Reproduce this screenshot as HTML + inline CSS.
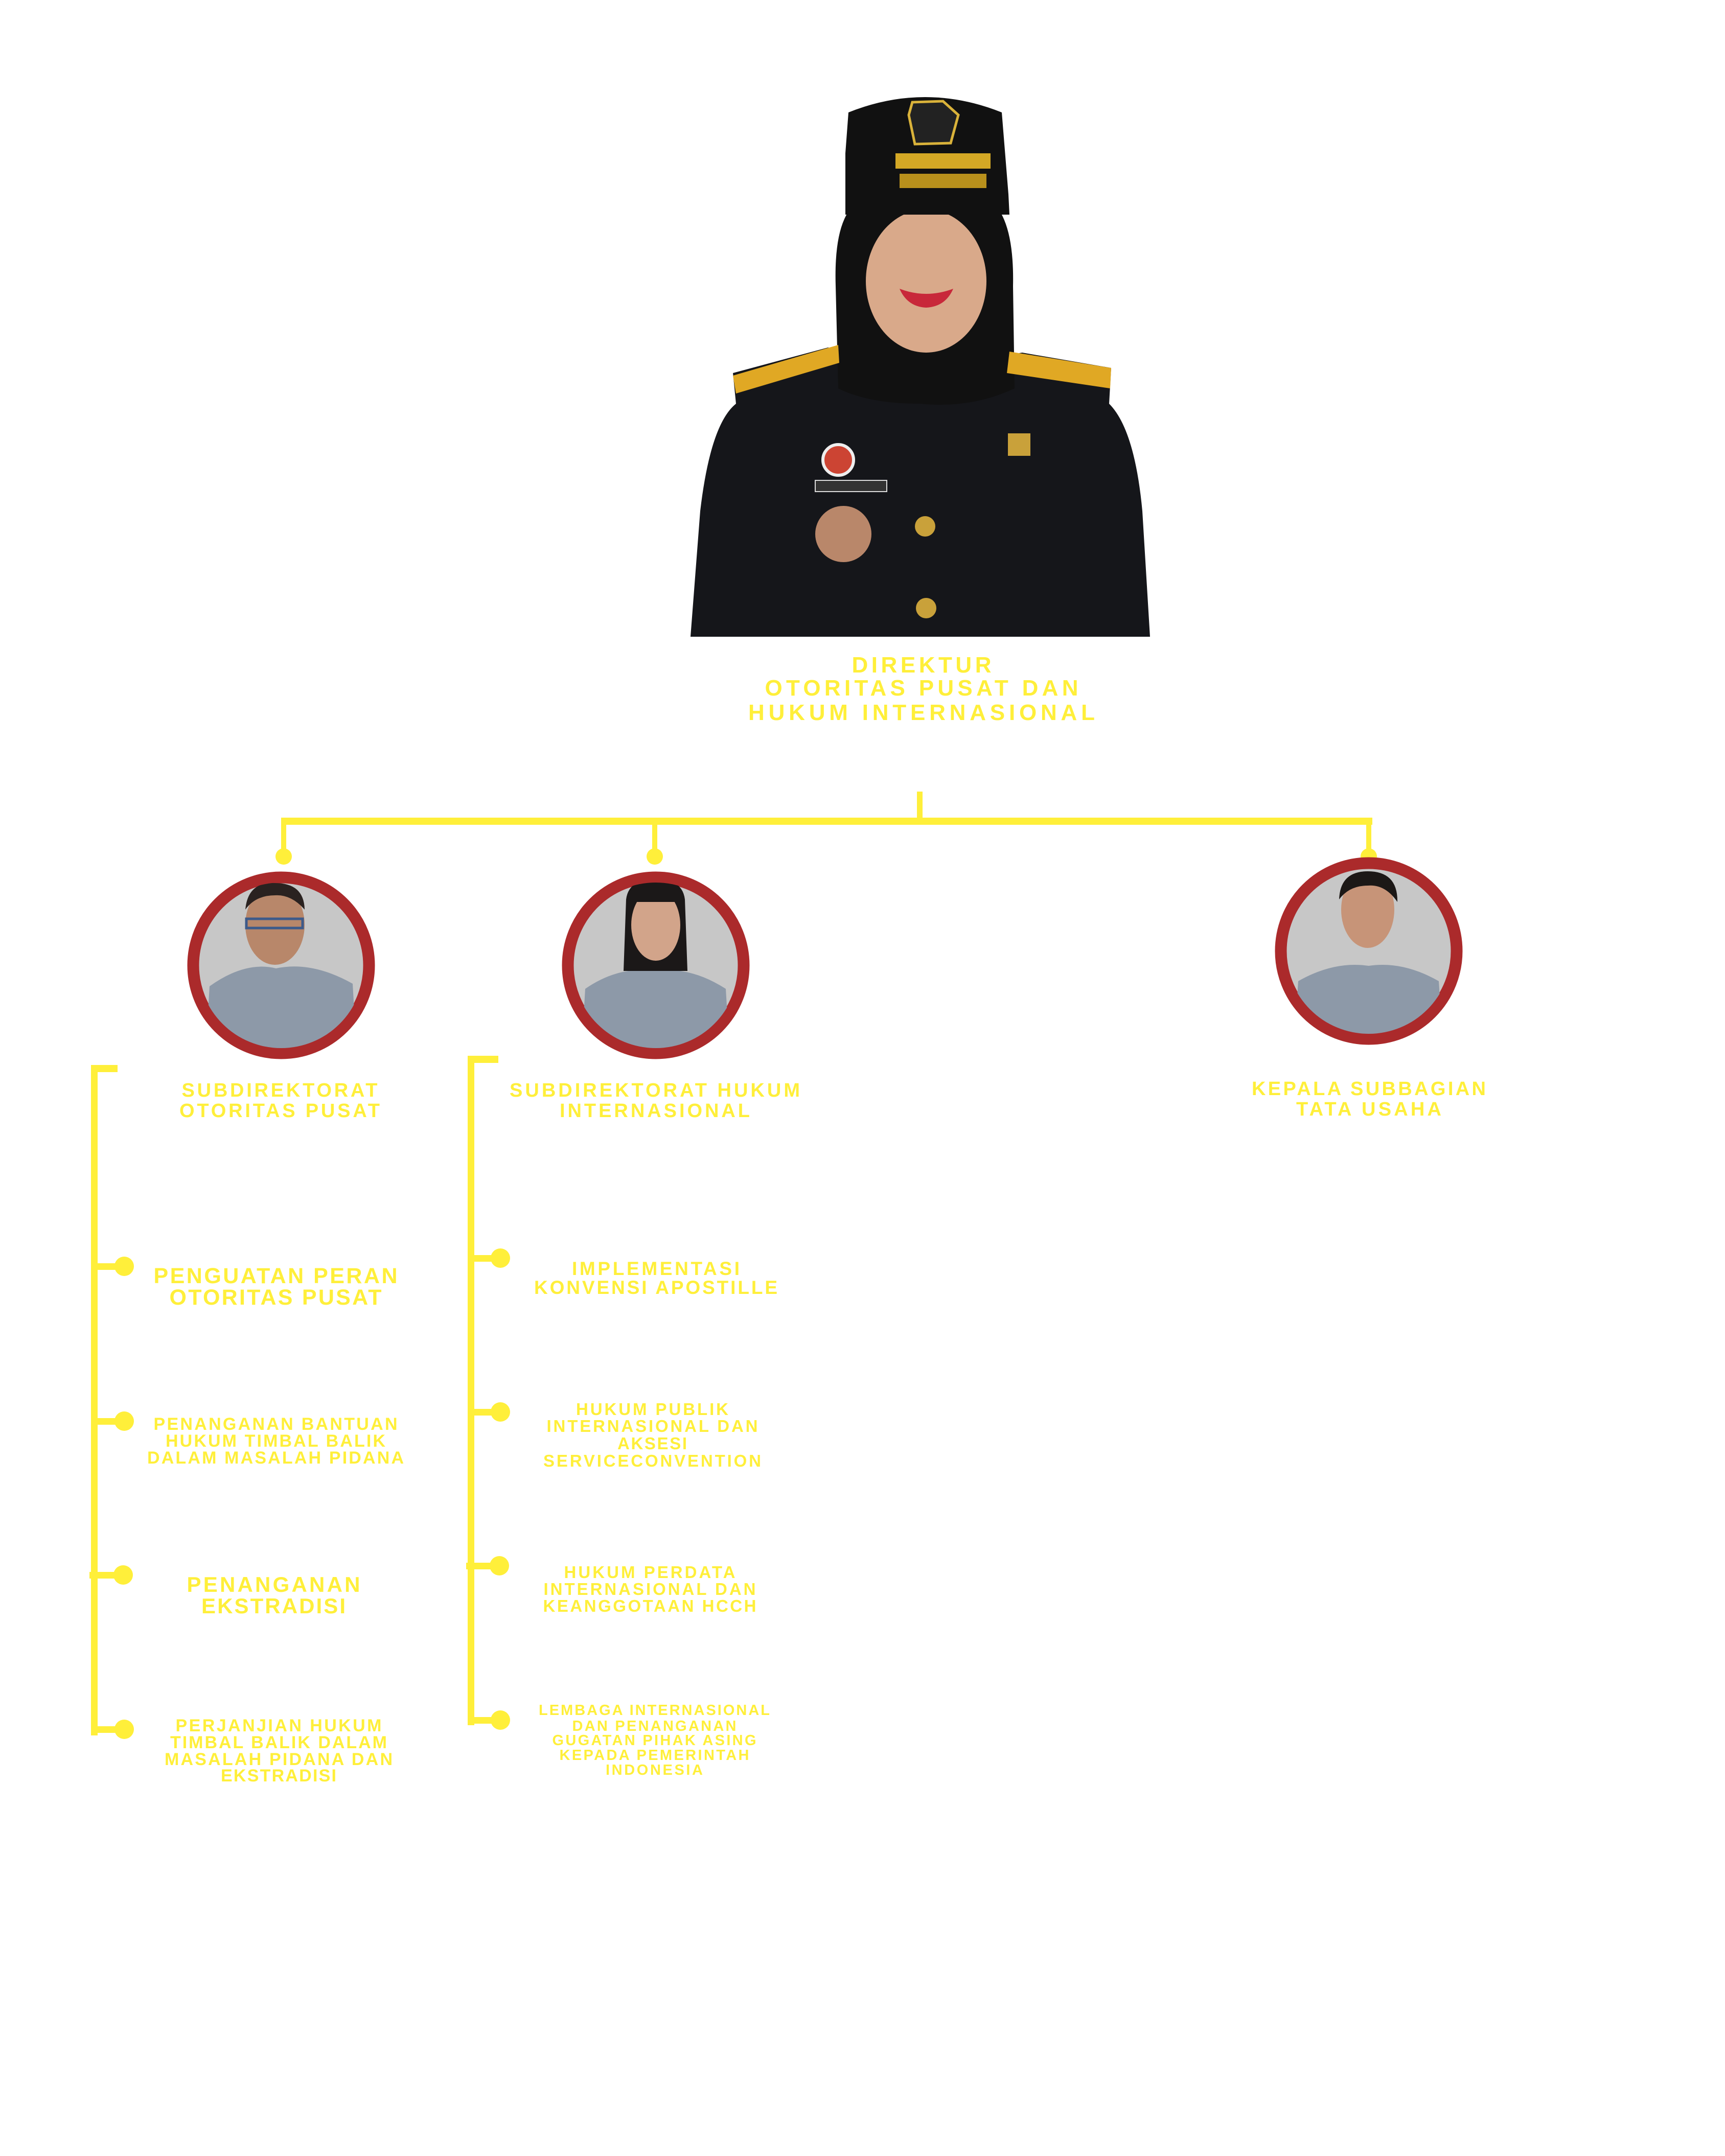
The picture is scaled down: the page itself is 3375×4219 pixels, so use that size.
<!DOCTYPE html>
<html><head><meta charset="utf-8"><style>
html,body{margin:0;padding:0;background:#fff;}
svg{display:block;}
text{font-family:"Liberation Sans",sans-serif;font-weight:bold;fill:#FFEF3A;text-anchor:middle;}
</style></head><body>
<svg width="3375" height="4219" viewBox="0 0 3375 4219" xmlns="http://www.w3.org/2000/svg">
<defs>
<clipPath id="c1"><circle cx="550" cy="1889" r="162"/></clipPath>
<clipPath id="c2"><circle cx="1283" cy="1889" r="162"/></clipPath>
<clipPath id="c3"><circle cx="2678" cy="1861" r="162"/></clipPath>
</defs>

<!-- Director photo -->
<g>
<path d="M1351 1246 L1370 1000 Q1390 830 1440 790 L1434 730 L1620 680 L1820 720 L2000 690 L2174 720 L2170 790 Q2220 840 2235 1000 L2250 1246 Z" fill="#15161a"/>
<path d="M1635 560 Q1630 400 1700 386 L1930 386 Q1985 420 1982 560 L1985 760 Q1900 800 1800 790 Q1700 790 1640 760 Z" fill="#111"/>
<ellipse cx="1812" cy="550" rx="118" ry="140" fill="#d9a98a"/>
<path d="M1760 565 Q1812 585 1865 565 Q1850 600 1812 602 Q1775 600 1760 565Z" fill="#c8283a"/>
<path d="M1660 220 Q1810 160 1960 220 L1973 380 L1975 420 L1654 420 L1654 300 Z" fill="#111"/>
<polygon points="1785,200 1845,198 1875,225 1860,280 1790,282 1778,225" fill="#222" stroke="#d9b23a" stroke-width="5"/>
<rect x="1752" y="300" width="186" height="30" fill="#d4a825"/>
<rect x="1760" y="340" width="170" height="28" fill="#b8901c"/>
<polygon points="1434,735 1640,675 1642,710 1440,770" fill="#e0a824"/>
<polygon points="1975,688 2174,720 2172,760 1970,730" fill="#e0a824"/>
<rect x="1595" y="940" width="140" height="22" fill="#333" stroke="#ddd" stroke-width="2"/>
<circle cx="1640" cy="900" r="30" fill="#c43" stroke="#eee" stroke-width="6"/>
<circle cx="1650" cy="1045" r="55" fill="#b9876a"/>
<circle cx="1810" cy="1030" r="20" fill="#c9a13a"/>
<circle cx="1812" cy="1190" r="20" fill="#c9a13a"/>
<rect x="1972" y="848" width="44" height="44" fill="#c9a13a"/>
</g>

<!-- Director title -->
<text font-size="44" x="1803" y="1316" textLength="273" lengthAdjust="spacing">DIREKTUR</text>
<text font-size="44" x="1803" y="1361" textLength="613" lengthAdjust="spacing">OTORITAS PUSAT DAN</text>
<text font-size="44" x="1803" y="1409" textLength="678" lengthAdjust="spacing">HUKUM INTERNASIONAL</text>

<!-- Connectors top -->
<g fill="#FFEF3A">
<rect x="1794" y="1549" width="11" height="58"/>
<rect x="551" y="1600" width="2134" height="14"/>
<rect x="550" y="1600" width="10" height="76"/>
<rect x="1276" y="1600" width="10" height="76"/>
<rect x="2673" y="1600" width="10" height="70"/>
<circle cx="555" cy="1676" r="16"/>
<circle cx="1281" cy="1676" r="16"/>
<circle cx="2678" cy="1676" r="16"/>
</g>

<!-- Person circles -->
<g>
<circle cx="550" cy="1889" r="172" fill="#c7c7c7" stroke="#ab2a2b" stroke-width="23"/>
<g clip-path="url(#c1)">
<path d="M400 2100 L410 1930 Q480 1880 540 1895 Q610 1880 690 1925 L700 2100Z" fill="#8d99a8"/>
<ellipse cx="538" cy="1810" rx="58" ry="78" fill="#b8876a"/>
<path d="M480 1780 Q485 1725 538 1728 Q595 1728 596 1780 Q570 1750 538 1752 Q500 1752 480 1780Z" fill="#2a2220"/>
<rect x="482" y="1798" width="110" height="18" fill="none" stroke="#3d5a8a" stroke-width="5"/>
</g>
<circle cx="1283" cy="1889" r="172" fill="#c7c7c7" stroke="#ab2a2b" stroke-width="23"/>
<g clip-path="url(#c2)">
<path d="M1135 2100 L1145 1935 Q1210 1890 1280 1900 Q1350 1890 1420 1935 L1430 2100Z" fill="#8d99a8"/>
<path d="M1225 1760 Q1230 1720 1283 1720 Q1335 1720 1340 1760 L1345 1900 L1220 1900Z" fill="#1b1818"/>
<ellipse cx="1283" cy="1810" rx="48" ry="70" fill="#d2a48a"/>
<rect x="1240" y="1730" width="80" height="35" fill="#1b1818"/>
</g>
<circle cx="2678" cy="1861" r="172" fill="#c7c7c7" stroke="#ab2a2b" stroke-width="23"/>
<g clip-path="url(#c3)">
<path d="M2530 2070 L2540 1920 Q2610 1880 2678 1890 Q2745 1880 2815 1920 L2825 2070Z" fill="#8d99a8"/>
<ellipse cx="2676" cy="1780" rx="52" ry="75" fill="#c79478"/>
<path d="M2620 1760 Q2622 1705 2676 1705 Q2735 1705 2734 1765 Q2710 1730 2676 1733 Q2640 1733 2620 1760Z" fill="#1c1816"/>
</g>
</g>

<!-- Subtitles -->
<text font-size="38" x="547" y="2146" textLength="383" lengthAdjust="spacing">SUBDIREKTORAT</text>
<text font-size="38" x="547" y="2186" textLength="392" lengthAdjust="spacing">OTORITAS PUSAT</text>
<text font-size="38" x="1281" y="2146" textLength="568" lengthAdjust="spacing">SUBDIREKTORAT HUKUM</text>
<text font-size="38" x="1281" y="2186" textLength="372" lengthAdjust="spacing">INTERNASIONAL</text>
<text font-size="38" x="2678" y="2143" textLength="458" lengthAdjust="spacing">KEPALA SUBBAGIAN</text>
<text font-size="38" x="2678" y="2183" textLength="284" lengthAdjust="spacing">TATA USAHA</text>

<!-- Left bracket -->
<g fill="#FFEF3A">
<rect x="178" y="2084" width="13" height="1312"/>
<rect x="178" y="2084" width="52" height="14"/>
<rect x="178" y="2472" width="65" height="13"/><circle cx="243" cy="2478" r="19"/>
<rect x="178" y="2775" width="65" height="13"/><circle cx="243" cy="2781" r="19"/>
<rect x="175" y="3076" width="68" height="13"/><circle cx="241" cy="3082" r="19"/>
<rect x="178" y="3378" width="65" height="13"/><circle cx="243" cy="3384" r="19"/>
</g>
<!-- Middle bracket -->
<g fill="#FFEF3A">
<rect x="915" y="2066" width="13" height="1310"/>
<rect x="915" y="2066" width="60" height="14"/>
<rect x="915" y="2456" width="64" height="13"/><circle cx="979" cy="2462" r="19"/>
<rect x="915" y="2757" width="64" height="13"/><circle cx="979" cy="2763" r="19"/>
<rect x="912" y="3058" width="65" height="13"/><circle cx="977" cy="3064" r="19"/>
<rect x="915" y="3360" width="64" height="13"/><circle cx="979" cy="3366" r="19"/>
</g>

<!-- Left items -->
<text font-size="43" x="539" y="2511" textLength="477" lengthAdjust="spacing">PENGUATAN PERAN</text>
<text font-size="43" x="539" y="2553" textLength="415" lengthAdjust="spacing">OTORITAS PUSAT</text>

<text font-size="34" x="539" y="2798" textLength="477" lengthAdjust="spacing">PENANGANAN BANTUAN</text>
<text font-size="34" x="539" y="2831" textLength="430" lengthAdjust="spacing">HUKUM TIMBAL BALIK</text>
<text font-size="34" x="539" y="2864" textLength="502" lengthAdjust="spacing">DALAM MASALAH PIDANA</text>

<text font-size="42" x="535" y="3115" textLength="339" lengthAdjust="spacing">PENANGANAN</text>
<text font-size="42" x="535" y="3157" textLength="282" lengthAdjust="spacing">EKSTRADISI</text>

<text font-size="34" x="545" y="3388" textLength="403" lengthAdjust="spacing">PERJANJIAN HUKUM</text>
<text font-size="34" x="545" y="3421" textLength="424" lengthAdjust="spacing">TIMBAL BALIK DALAM</text>
<text font-size="34" x="545" y="3454" textLength="446" lengthAdjust="spacing">MASALAH PIDANA DAN</text>
<text font-size="34" x="545" y="3486" textLength="226" lengthAdjust="spacing">EKSTRADISI</text>

<!-- Middle items -->
<text font-size="37" x="1283" y="2495" textLength="328" lengthAdjust="spacing">IMPLEMENTASI</text>
<text font-size="37" x="1283" y="2532" textLength="476" lengthAdjust="spacing">KONVENSI APOSTILLE</text>

<text font-size="33" x="1276" y="2769" textLength="298" lengthAdjust="spacing">HUKUM PUBLIK</text>
<text font-size="33" x="1276" y="2802" textLength="413" lengthAdjust="spacing">INTERNASIONAL DAN</text>
<text font-size="33" x="1276" y="2836" textLength="136" lengthAdjust="spacing">AKSESI</text>
<text font-size="33" x="1276" y="2870" textLength="426" lengthAdjust="spacing">SERVICECONVENTION</text>

<text font-size="33" x="1271" y="3088" textLength="335" lengthAdjust="spacing">HUKUM PERDATA</text>
<text font-size="33" x="1271" y="3121" textLength="415" lengthAdjust="spacing">INTERNASIONAL DAN</text>
<text font-size="33" x="1271" y="3154" textLength="417" lengthAdjust="spacing">KEANGGOTAAN HCCH</text>

<text font-size="29" x="1280" y="3356" textLength="452" lengthAdjust="spacing">LEMBAGA INTERNASIONAL</text>
<text font-size="29" x="1280" y="3387" textLength="321" lengthAdjust="spacing">DAN PENANGANAN</text>
<text font-size="29" x="1280" y="3415" textLength="399" lengthAdjust="spacing">GUGATAN PIHAK ASING</text>
<text font-size="29" x="1280" y="3444" textLength="371" lengthAdjust="spacing">KEPADA PEMERINTAH</text>
<text font-size="29" x="1280" y="3473" textLength="190" lengthAdjust="spacing">INDONESIA</text>
</svg>
</body></html>
